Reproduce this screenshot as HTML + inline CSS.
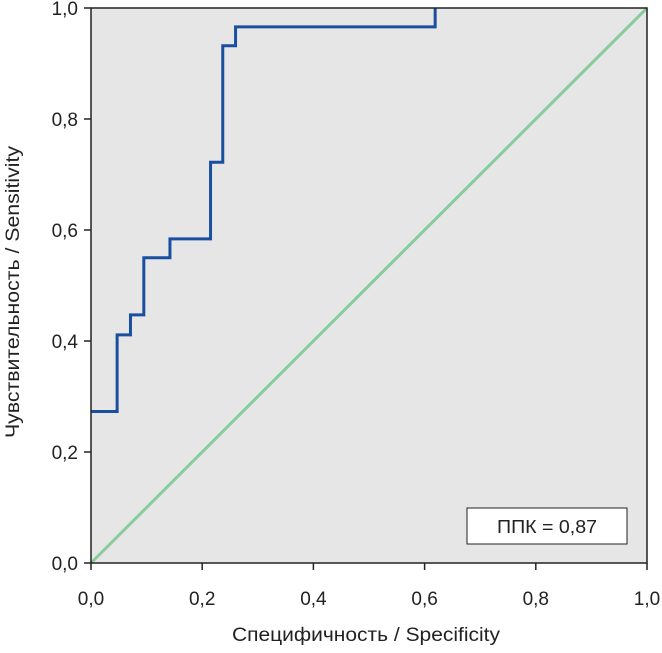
<!DOCTYPE html>
<html><head><meta charset="utf-8"><style>
body{margin:0;background:#fff;}
svg text{font-family:"Liberation Sans","DejaVu Sans",sans-serif;fill:#222;}
</style></head><body>
<svg width="662" height="648" viewBox="0 0 662 648">
<rect x="91" y="8" width="556" height="555" fill="#e6e6e6"/>
<g id="ticks"></g>
<line x1="91" y1="563" x2="647" y2="8" stroke="#86cc9c" stroke-width="3"/>
<path id="roc" fill="none" stroke="#1a4fa0" stroke-width="3"/>
<rect x="91" y="8" width="556" height="555" fill="none" stroke="#222" stroke-width="1.5"/>
<rect x="467" y="508" width="160" height="36" fill="#fff" stroke="#222" stroke-width="1"/>
<text x="547" y="533" font-size="18" text-anchor="middle" textLength="100" lengthAdjust="spacingAndGlyphs">ППК = 0,87</text>
<text x="366" y="641" font-size="19" text-anchor="middle" textLength="268" lengthAdjust="spacingAndGlyphs">Специфичность / Specificity</text>
<text transform="translate(19,292) rotate(-90)" font-size="19" text-anchor="middle" textLength="292" lengthAdjust="spacingAndGlyphs">Чувствительность / Sensitivity</text>
</svg>
<script>
const fprValues=[0,0.047,0.047,0.071,0.071,0.095,0.095,0.142,0.142,0.215,0.215,0.237,0.237,0.26,0.26,0.619,0.619];
const tprValues=[0.273,0.273,0.411,0.411,0.447,0.447,0.55,0.55,0.584,0.584,0.722,0.722,0.932,0.932,0.966,0.966,1.0];
const tickValues=[0,0.2,0.4,0.6,0.8,1.0];
const tickLabels=["0,0","0,2","0,4","0,6","0,8","1,0"];
const xs=v=>91+v*556, ys=v=>563-v*555;
document.getElementById('roc').setAttribute('d',fprValues.map((v,i)=>(i?'L':'M')+xs(v)+','+ys(tprValues[i])).join(''));
const g=document.getElementById('ticks'),NS='http://www.w3.org/2000/svg';
tickValues.forEach((v,i)=>{
 const a=document.createElementNS(NS,'line');a.setAttribute('x1',84);a.setAttribute('x2',91);a.setAttribute('y1',ys(v));a.setAttribute('y2',ys(v));a.setAttribute('stroke','#222');a.setAttribute('stroke-width','1.5');
 
 g.appendChild(a);
 const b=document.createElementNS(NS,'line');b.setAttribute('x1',xs(v));b.setAttribute('x2',xs(v));b.setAttribute('y1',563);b.setAttribute('y2',570);b.setAttribute('stroke','#222');b.setAttribute('stroke-width','1.5');
 
 g.appendChild(b);
 const t=document.createElementNS(NS,'text');t.setAttribute('x',78);t.setAttribute('y',ys(v)+7);t.setAttribute('text-anchor','end');t.setAttribute('font-size','19');t.textContent=tickLabels[i];
 
 g.appendChild(t);
 const u=document.createElementNS(NS,'text');u.setAttribute('x',xs(v));u.setAttribute('y',605);u.setAttribute('text-anchor','middle');u.setAttribute('font-size','19');u.textContent=tickLabels[i];
 
 g.appendChild(u);
});
</script>
</body></html>
